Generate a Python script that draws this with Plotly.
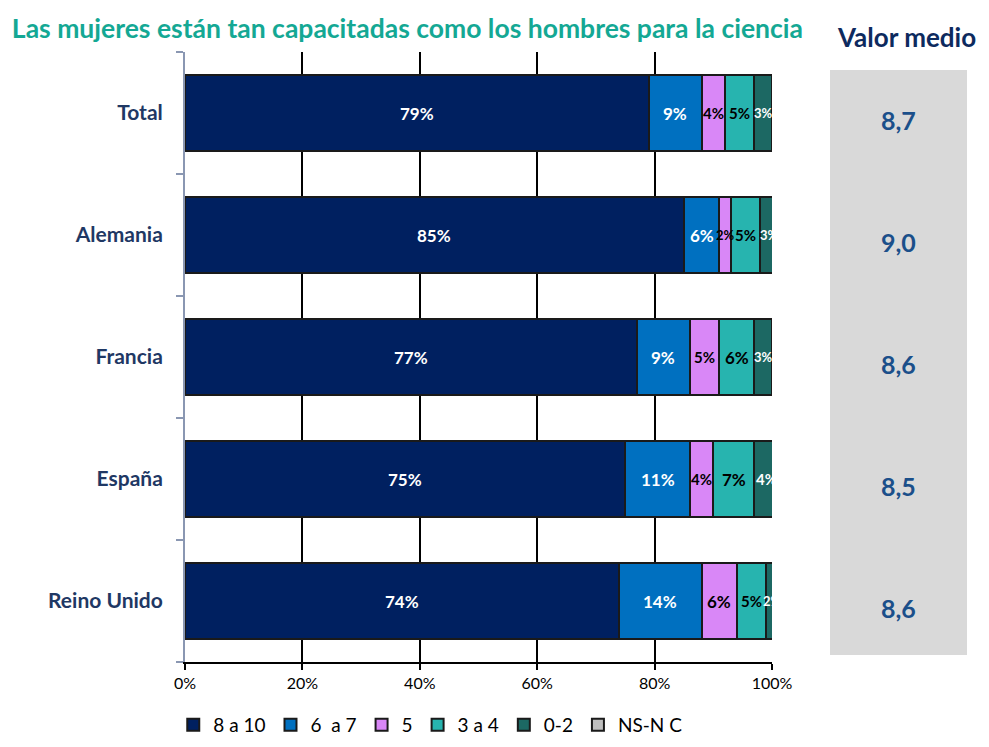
import plotly.graph_objects as go

# Survey: "Las mujeres están tan capacitadas como los hombres para la ciencia"
countries = ["Total", "Alemania", "Francia", "España", "Reino Unido"]
series_names = ["8 a 10", "6  a 7", "5", "3 a 4", "0-2", "NS-N C"]
s_8_10 = [79, 85, 77, 75, 74]
s_6_7 = [9, 6, 9, 11, 14]
s_5 = [4, 2, 5, 4, 6]
s_3_4 = [5, 5, 6, 7, 5]
s_0_2 = [3, 3, 3, 4, 2]
s_nsnc = [0, 0, 0, 0, 0]
mean_values = ["8,7", "9,0", "8,6", "8,5", "8,6"]

series_values = [s_8_10, s_6_7, s_5, s_3_4, s_0_2, s_nsnc]
fill_colors = ["#002060", "#0070C0", "#D987F7", "#27B4AF", "#1C6863", "#C0C0C0"]
text_colors = ["white", "white", "black", "black", "white", "black"]

FONT = "Lato"

fig = go.Figure()
for name, vals, col in zip(series_names, series_values, fill_colors):
    fig.add_trace(go.Bar(
        y=countries,
        x=vals,
        name=name,
        orientation="h",
        marker=dict(color=col, line=dict(color="#1a1a1a", width=2)),
        width=0.63,
        hoverinfo="skip",
    ))

# Percentage labels centred on each stacked segment (no shrinking or hiding);
# narrow segments get a slightly smaller label
for i, c in enumerate(countries):
    start = 0
    for name, vals, tcol in zip(series_names, series_values, text_colors):
        v = vals[i]
        if v > 0:
            size = 17 if v >= 6 else (15 if v >= 4 else 13)
            fig.add_annotation(x=start + v / 2, y=c, xref="x", yref="y",
                               text=f"{v}%", showarrow=False,
                               font=dict(family=FONT, size=size, color=tcol, weight="bold"))
        start += v

# Grey side panel with the mean score per country
fig.add_shape(type="rect", xref="paper", yref="paper",
              x0=1.0988, x1=1.3322, y0=0.0115, y1=0.9705,
              fillcolor="#D9D9D9", line=dict(width=0), layer="below")
for c, m in zip(countries, mean_values):
    fig.add_annotation(x=1.2155, xref="paper", xanchor="center", y=c, yref="y", yshift=-7,
                       text=m, showarrow=False,
                       font=dict(family=FONT, size=25, color="#1B4F8A", weight="bold"))
fig.add_annotation(x=1.2283, xref="paper", xanchor="center", y=1.025, yref="paper",
                   yanchor="middle", text="Valor medio", showarrow=False,
                   font=dict(family=FONT, size=26, color="#0D2A5E", weight="bold"))

fig.update_layout(
    barmode="stack",
    width=989, height=747,
    margin=dict(l=185, r=217, t=52, b=85, autoexpand=False),
    paper_bgcolor="white", plot_bgcolor="white",
    title=dict(text="Las mujeres están tan capacitadas como los hombres para la ciencia",
               x=0.012, xanchor="left", y=0.962, yanchor="middle",
               font=dict(family=FONT, size=26.5, color="#14A894", weight="bold")),
    legend=dict(orientation="h", x=-0.02, y=-0.103, yanchor="middle", xanchor="left",
                font=dict(family=FONT, size=19, color="black"),
                traceorder="normal", itemwidth=30),
    showlegend=True,
)
fig.update_xaxes(range=[0, 100], tickvals=[0, 20, 40, 60, 80, 100],
                 ticktext=["0%", "20%", "40%", "60%", "80%", "100%"],
                 showgrid=True, gridcolor="black", gridwidth=2,
                 showline=True, linecolor="black", linewidth=2,
                 ticks="outside", ticklen=6, tickcolor="black", tickwidth=2,
                 tickfont=dict(family=FONT, size=16, color="black"),
                 zeroline=False, fixedrange=True)
fig.update_yaxes(categoryorder="array", categoryarray=countries[::-1],
                 showline=True, linecolor="#8A97B2", linewidth=2,
                 ticks="outside", ticklen=7, tickcolor="#8A97B2", tickwidth=2,
                 tickson="boundaries", ticklabelstandoff=16,
                 tickfont=dict(family=FONT, size=21, color="#1F3864", weight="bold"),
                 showgrid=False, fixedrange=True)

fig.write_html("out.html")
